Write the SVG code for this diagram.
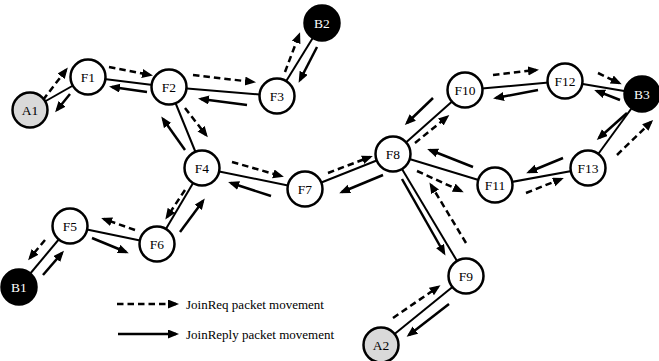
<svg xmlns="http://www.w3.org/2000/svg" width="659" height="361" viewBox="0 0 659 361">
<style>
.link{stroke:#000;stroke-width:2;fill:none}
.rep{stroke:#000;stroke-width:2.5;fill:none;marker-end:url(#ah)}
.req{stroke:#000;stroke-width:2.5;fill:none;stroke-dasharray:6.5 4;marker-end:url(#ah)}
.n{stroke:#000;stroke-width:2.5;fill:#fff}
.a{fill:#d9d9d9}
.b{fill:#000}
text{font-family:"Liberation Serif","Times New Roman",serif;font-size:13.5px;fill:#000;text-anchor:middle;dominant-baseline:central}
.wt{fill:#fff}
.lg{font-size:13px;text-anchor:start}
</style>
<defs>
<marker id="ah" markerUnits="userSpaceOnUse" markerWidth="12" markerHeight="10" refX="8" refY="4.5" orient="auto">
<path d="M0,0 L11,4.5 L0,9 z" fill="#000"/>
</marker>
</defs>
<g id="connectors">
<line class="link" x1="30" y1="110" x2="88" y2="77"/>
<line class="link" x1="88" y1="77" x2="169" y2="87"/>
<line class="link" x1="169" y1="87" x2="277" y2="96"/>
<line class="link" x1="277" y1="96" x2="322" y2="23"/>
<line class="link" x1="169" y1="87" x2="202" y2="168"/>
<line class="link" x1="202" y1="168" x2="157" y2="244"/>
<line class="link" x1="157" y1="244" x2="70" y2="226"/>
<line class="link" x1="70" y1="226" x2="19" y2="287"/>
<line class="link" x1="202" y1="168" x2="305" y2="189"/>
<line class="link" x1="305" y1="189" x2="393" y2="154"/>
<line class="link" x1="393" y1="154" x2="465" y2="90"/>
<line class="link" x1="465" y1="90" x2="565" y2="81"/>
<line class="link" x1="565" y1="81" x2="642" y2="94"/>
<line class="link" x1="642" y1="94" x2="588" y2="168"/>
<line class="link" x1="588" y1="168" x2="495" y2="185"/>
<line class="link" x1="495" y1="185" x2="393" y2="154"/>
<line class="link" x1="393" y1="154" x2="466" y2="276"/>
<line class="link" x1="466" y1="276" x2="381" y2="345"/>

<line class="req" x1="43" y1="100" x2="66" y2="70"/>
<line class="rep" x1="70" y1="94" x2="57" y2="110"/>
<line class="req" x1="109" y1="67" x2="150" y2="75"/>
<line class="rep" x1="147" y1="92" x2="112" y2="87"/>
<line class="req" x1="193" y1="75" x2="253" y2="82"/>
<line class="rep" x1="247" y1="105" x2="201" y2="99"/>
<line class="req" x1="285" y1="72" x2="299" y2="35"/>
<line class="rep" x1="317" y1="47" x2="300" y2="80"/>
<line class="req" x1="185" y1="108" x2="206" y2="135"/>
<line class="rep" x1="185" y1="150" x2="163" y2="119"/>
<line class="req" x1="185" y1="190" x2="167" y2="217"/>
<line class="rep" x1="180" y1="232" x2="203" y2="201"/>
<line class="req" x1="135" y1="230" x2="104" y2="219"/>
<line class="rep" x1="92" y1="238" x2="126" y2="252"/>
<line class="req" x1="45" y1="240" x2="30" y2="258"/>
<line class="rep" x1="43" y1="275" x2="62" y2="253"/>
<line class="req" x1="232" y1="162" x2="281" y2="176"/>
<line class="rep" x1="271" y1="196" x2="231" y2="183"/>
<line class="req" x1="328" y1="173" x2="370" y2="157"/>
<line class="rep" x1="383" y1="175" x2="342" y2="192"/>
<line class="req" x1="415" y1="143" x2="447" y2="117"/>
<line class="rep" x1="433" y1="98" x2="407" y2="123"/>
<line class="req" x1="493" y1="75" x2="536" y2="70"/>
<line class="rep" x1="538" y1="90" x2="496" y2="98"/>
<line class="req" x1="598" y1="73" x2="619" y2="83"/>
<line class="rep" x1="620" y1="100" x2="597" y2="91"/>
<line class="rep" x1="627" y1="113" x2="599" y2="138"/>
<line class="req" x1="617" y1="155" x2="651" y2="122"/>
<line class="rep" x1="563" y1="158" x2="529" y2="172"/>
<line class="req" x1="526" y1="193" x2="561" y2="179"/>
<line class="rep" x1="473" y1="167" x2="430" y2="150"/>
<line class="req" x1="417" y1="171" x2="461" y2="191"/>
<line class="rep" x1="402" y1="179" x2="444" y2="253"/>
<line class="req" x1="466" y1="243" x2="431" y2="185"/>
<line class="req" x1="393" y1="318" x2="438" y2="287"/>
<line class="rep" x1="449" y1="304" x2="409" y2="335"/>
</g>
<g id="A1"><circle class="n a" cx="30" cy="110" r="17.5"/><text x="30" y="110">A1</text></g>
<g id="F1"><circle class="n" cx="88" cy="77" r="17.5"/><text x="88" y="77">F1</text></g>
<g id="F2"><circle class="n" cx="169" cy="87" r="17.5"/><text x="169" y="87">F2</text></g>
<g id="F3"><circle class="n" cx="277" cy="96" r="17.5"/><text x="277" y="96">F3</text></g>
<g id="B2"><circle class="n b" cx="322" cy="23" r="17.5"/><text class="wt" x="322" y="23">B2</text></g>
<g id="F4"><circle class="n" cx="202" cy="168" r="17.5"/><text x="202" y="168">F4</text></g>
<g id="F5"><circle class="n" cx="70" cy="226" r="17.5"/><text x="70" y="226">F5</text></g>
<g id="F6"><circle class="n" cx="157" cy="244" r="17.5"/><text x="157" y="244">F6</text></g>
<g id="B1"><circle class="n b" cx="19" cy="287" r="17.5"/><text class="wt" x="19" y="287">B1</text></g>
<g id="F7"><circle class="n" cx="305" cy="189" r="17.5"/><text x="305" y="189">F7</text></g>
<g id="F8"><circle class="n" cx="393" cy="154" r="17.5"/><text x="393" y="154">F8</text></g>
<g id="F10"><circle class="n" cx="465" cy="90" r="17.5"/><text x="465" y="90">F10</text></g>
<g id="F12"><circle class="n" cx="565" cy="81" r="17.5"/><text x="565" y="81">F12</text></g>
<g id="B3"><circle class="n b" cx="642" cy="94" r="17.5"/><text class="wt" x="642" y="94">B3</text></g>
<g id="F13"><circle class="n" cx="588" cy="168" r="17.5"/><text x="588" y="168">F13</text></g>
<g id="F11"><circle class="n" cx="495" cy="185" r="17.5"/><text x="495" y="185">F11</text></g>
<g id="F9"><circle class="n" cx="466" cy="276" r="17.5"/><text x="466" y="276">F9</text></g>
<g id="A2"><circle class="n a" cx="381" cy="345" r="17.5"/><text x="381" y="345">A2</text></g>
<g id="legend">
<line class="req" x1="117" y1="304" x2="176" y2="304"/>
<text class="lg" x="186" y="304">JoinReq packet movement</text>
<line class="rep" x1="118" y1="334" x2="176" y2="334"/>
<text class="lg" x="186" y="334">JoinReply packet movement</text>
</g>
</svg>
